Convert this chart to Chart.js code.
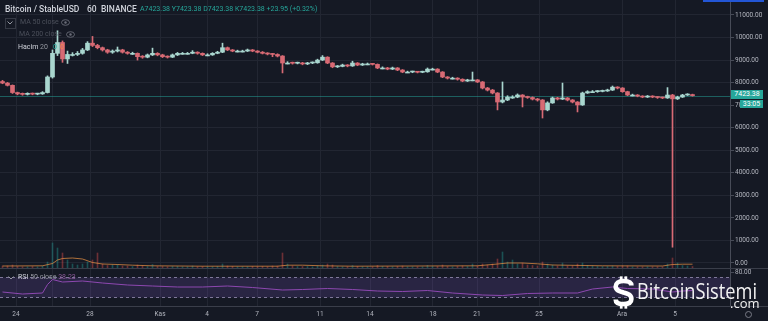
<!DOCTYPE html>
<html>
<head>
<meta charset="utf-8">
<script src="https://cdn.jsdelivr.net/npm/chart.js@4.4.0/dist/chart.umd.min.js"></script>
<style>
  body { margin: 0; background: #151924; width: 768px; height: 321px; overflow: hidden; position: relative; font-family: Roboto, "Open Sans", sans-serif; }
  canvas { position: absolute; left: 0; }
  .t { position: absolute; white-space: nowrap; line-height: 1; }
</style>
</head>
<body>
<canvas id="priceChart" width="768" height="268" style="top:0"></canvas>
<canvas id="rsiChart" width="768" height="53" style="top:268px"></canvas>

<!-- header / legend -->
<div class="t" style="left:5px;top:5px;font-size:8.5px;font-weight:500;color:#d1d4dc">Bitcoin / StableUSD</div>
<div class="t" style="left:87px;top:5px;font-size:8.5px;font-weight:500;color:#d1d4dc">60</div>
<div class="t" style="left:101px;top:5px;font-size:8.5px;font-weight:500;color:#d1d4dc">BINANCE</div>
<div class="t" style="left:140px;top:6px;font-size:7px;color:#26a69a">A7423.38 Y7423.38 D7423.38 K7423.38 +23.95 (+0.32%)</div>

<div style="position:absolute;left:5px;top:18px;width:9px;height:9px;border:1px solid #363a45"></div>
<svg style="position:absolute;left:7px;top:21px" width="6" height="4"><polyline points="0.5,0.5 3,3 5.5,0.5" fill="none" stroke="#9598a1" stroke-width="1"/></svg>
<div class="t" style="left:20px;top:19px;font-size:7px;color:#4c505b">MA 50 close</div>
<svg style="position:absolute;left:61px;top:19px" width="9" height="7"><ellipse cx="4.5" cy="3.5" rx="4" ry="2.8" fill="none" stroke="#6a6d78" stroke-width="0.9"/><circle cx="4.5" cy="3.5" r="1.2" fill="#6a6d78"/></svg>
<div class="t" style="left:19px;top:31px;font-size:7px;color:#4c505b">MA 200 close</div>
<svg style="position:absolute;left:66px;top:31px" width="9" height="7"><ellipse cx="4.5" cy="3.5" rx="4" ry="2.8" fill="none" stroke="#6a6d78" stroke-width="0.9"/><circle cx="4.5" cy="3.5" r="1.2" fill="#6a6d78"/></svg>
<div class="t" style="left:18px;top:44px;font-size:7px;color:#d1d4dc">Hacim <span style="color:#9598a1">20</span></div>
<div class="t" style="left:53px;top:44px;font-size:7px;color:#26a69a">0</div>
<div class="t" style="left:60px;top:44px;font-size:7px;color:#f0874a">0</div>

<!-- price tags -->
<div class="t" style="left:731px;top:90px;width:32px;height:9px;background:#26a69a;color:#fff;font-size:7px;line-height:9px;text-align:center">7423.38</div>
<div class="t" style="left:740px;top:100px;width:23px;height:8px;background:#26a69a;color:#fff;font-size:7px;line-height:8px;text-align:center">33:05</div>
<div style="position:absolute;left:703px;top:0;width:61px;height:2px;background:#2356d6"></div>

<!-- RSI legend -->
<svg style="position:absolute;left:8px;top:276px" width="6" height="4"><polyline points="0.5,0.5 3,3 5.5,0.5" fill="none" stroke="#9598a1" stroke-width="1"/></svg>
<div class="t" style="left:18px;top:274px;font-size:7px;color:#d1d4dc">RSI <span style="color:#9598a1">50 close</span> <span style="color:#8e5b9c">38.23</span></div>

<!-- watermark -->
<svg style="position:absolute;left:612px;top:275px" width="24" height="35" viewBox="0 0 26 35">
  <rect x="8.5" y="0" width="3" height="5" fill="#fff"/><rect x="13.5" y="0" width="3" height="5" fill="#fff"/>
  <rect x="8.5" y="30" width="3" height="5" fill="#fff"/><rect x="13.5" y="30" width="3" height="5" fill="#fff"/>
  <path d="M21,10 C21,6.5 17.5,5 12.5,5 C7,5 4,7.5 4,11 C4,15 8,16.2 12.5,17.5 C17.5,18.8 21,20 21,24.5 C21,28.5 17.5,30 12.5,30 C7.5,30 4,28.5 4,25" fill="none" stroke="#fff" stroke-width="5"/>
</svg>
<div class="t" style="left:637px;top:281px;font-family:'Open Sans';font-size:21px;line-height:21px;color:#f2f2f2;transform:scaleX(0.87);transform-origin:left top">BitcoinSistemi</div>
<div class="t" style="left:730px;top:297px;font-family:'Open Sans';font-size:13px;line-height:13px;color:#f2f2f2">.com</div>
<svg style="position:absolute;left:744px;top:310px" width="9" height="9"><circle cx="4.5" cy="4.5" r="3" fill="none" stroke="#787b86" stroke-width="1"/></svg>

<script>
// hourly candles, sampled one per 5px of the original chart
const opens = [8050,7980,7880,7560,7500,7480,7510,7490,7500,7560,
  8250,9300,9780,9050,9250,9250,9300,9450,9750,9650,
  9550,9450,9350,9400,9450,9350,9300,9300,9150,9130,
  9230,9300,9230,9150,9130,9230,9300,9300,9300,9350,
  9300,9230,9230,9300,9350,9550,9450,9400,9400,9400,
  9450,9400,9350,9300,9270,9250,9180,8870,8870,8860,
  8870,8830,8870,8880,9000,9130,8870,8700,8720,8780,
  8740,8870,8780,8830,8830,8810,8650,8650,8600,8650,
  8560,8470,8470,8480,8460,8480,8600,8600,8470,8250,
  8200,8200,8150,8070,8120,8120,8030,7760,7670,7540,
  7140,7230,7360,7360,7450,7360,7340,7270,7230,6790,
  7100,7320,7270,7320,7230,7140,7010,7540,7600,7600,
  7610,7630,7670,7800,7760,7600,7450,7450,7400,7360,
  7400,7360,7340,7320,7450,7280,7360,7450,7470];
const highs = [8100,8010,7900,7580,7540,7550,7540,7530,7600,8300,
  9450,10300,9850,9400,9330,9380,9520,9820,10050,9700,
  9580,9480,9450,9580,9480,9380,9350,9320,9200,9270,
  9530,9330,9260,9190,9270,9340,9340,9340,9420,9370,
  9320,9280,9330,9390,9750,9580,9470,9440,9440,9490,
  9470,9420,9380,9330,9300,9280,9200,8930,8910,8910,
  8900,8900,8920,9040,9200,9150,8890,8760,8820,8800,
  8950,8890,8860,8870,8850,8830,8700,8680,8690,8670,
  8580,8510,8510,8500,8510,8650,8640,8620,8490,8270,
  8240,8220,8170,8150,8470,8140,8050,7790,7700,7560,
  8030,7420,7420,7500,7470,7400,7370,7300,7250,7150,
  7360,7350,7980,7340,7250,7160,7580,7640,7650,7650,
  7670,7710,7850,7820,7780,7620,7490,7470,7420,7430,
  7420,7380,7360,7780,7480,7400,7480,7510,7490];
const lows = [7950,7850,7520,7460,7440,7450,7460,7460,7480,7540,
  8200,9200,8900,8850,9180,9200,9260,9420,9600,9500,
  9400,9300,9300,9360,9310,9260,9250,9000,9080,9100,
  9200,9190,9110,9090,9110,9200,9260,9260,9280,9260,
  9200,9190,9210,9280,9330,9420,9370,9360,9360,9380,
  9370,9320,9270,9230,9150,9140,8430,8830,8820,8830,
  8790,8800,8840,8860,8980,8840,8660,8670,8700,8700,
  8720,8750,8760,8790,8780,8620,8610,8570,8580,8530,
  8440,8440,8440,8430,8440,8460,8560,8440,8220,8160,
  8160,8110,8040,8050,8080,8000,7720,7630,7500,6790,
  7100,7200,7300,7330,6920,7300,7230,7180,6430,6750,
  7080,7230,7250,7190,7100,6700,6990,7520,7560,7570,
  7590,7610,7650,7720,7570,7420,7410,7370,7330,7340,
  7330,7300,7290,7300,700,7250,7340,7430,7400];
const closes = [7980,7880,7560,7500,7480,7510,7490,7500,7560,8250,
  9300,9780,9050,9250,9250,9300,9450,9750,9650,9550,
  9450,9350,9400,9450,9350,9300,9300,9150,9130,9230,
  9300,9230,9150,9130,9230,9300,9300,9300,9350,9300,
  9230,9230,9300,9350,9550,9450,9400,9400,9400,9450,
  9400,9350,9300,9270,9250,9180,8870,8870,8860,8870,
  8830,8870,8880,9000,9130,8870,8700,8720,8780,8740,
  8870,8780,8830,8830,8810,8650,8650,8600,8650,8560,
  8470,8470,8480,8460,8480,8600,8600,8470,8250,8200,
  8200,8150,8070,8120,8120,8030,7760,7670,7540,7140,
  7230,7360,7360,7450,7360,7340,7270,7230,6790,7100,
  7320,7270,7320,7230,7140,7010,7540,7600,7600,7610,
  7630,7670,7800,7760,7600,7450,7450,7400,7360,7400,
  7360,7340,7320,7450,7280,7360,7450,7470,7423.38];
const volumes = [20,20,30,15,12,12,15,12,20,60,
  250,200,150,80,40,30,40,60,80,150,
  40,25,30,35,20,20,15,30,20,15,
  35,15,15,12,15,15,12,12,20,12,
  15,12,12,15,40,20,15,12,12,12,
  15,12,15,12,20,20,150,40,20,15,
  15,15,12,20,30,40,30,15,12,12,
  25,15,12,12,12,25,15,15,12,15,
  20,12,12,12,12,25,15,15,30,15,
  12,15,20,15,40,20,40,30,40,90,
  160,60,80,40,50,30,25,20,60,40,
  30,20,50,20,20,40,50,25,20,15,
  15,15,20,15,20,20,12,12,12,12,
  12,12,12,40,100,50,25,20,15];
// volume MA 20 (read at a few candles)
const volMaIdx = [0,8,10,11,12,14,16,18,20,23,26,30,40,55,57,60,64,70,95,99,101,104,107,110,120,132,134,136,138];
const volMaVal = [20,22,45,80,95,100,90,55,40,35,28,22,18,18,28,28,22,18,22,40,50,50,42,30,22,20,35,38,38];
// RSI 50 (read at a few candles)
const rsiIdx = [0,4,8,9,10,12,16,20,25,30,35,40,45,50,56,60,65,70,75,80,85,90,96,100,105,110,115,118,122,125,130,134,136,138];
const rsiVal = [40,36,38,55,65,60,62,58,54,52,50,50,52,49,44,45,47,45,42,41,43,38,34,33,37,38,38,46,50,47,46,40,42,43];

// date axis
const tickLabels = ['24','28','Kas','4','7','11','14','18','21','25','Ara','5'];
const tickIndex = [2.7,17.5,31.5,40.9,50.9,63.5,73.5,86.1,94.9,107.3,123.9,134.5];
const extraGrid = [10.1];
const priceTicks = [0,1000,2000,3000,4000,5000,6000,7000,8000,9000,10000,11000];
const rsiTicks = [80];
const rsiUpper = 70, rsiLower = 30;

const gridIndex = tickIndex.concat(extraGrid).sort((a, b) => a - b);
const upColor = '#a9d6cf';
const downColor = '#d86a74';
const candleColors = closes.map((c, i) => c >= opens[i] ? upColor : downColor);
const volColors = closes.map((c, i) => c >= opens[i] ? 'rgba(38,166,154,0.4)' : 'rgba(239,83,80,0.4)');

Chart.defaults.font.family = "Roboto, 'Open Sans', sans-serif";
Chart.defaults.color = '#b2b5be';

const gridColor = '#222632';
const axisColor = '#474b57';

function fixWidth(scale) {
  scale.width = 38;
  scale.paddingTop = 0;
  scale.paddingBottom = 0;
}

const priceLinePlugin = {
  id: 'priceLine',
  beforeDatasetsDraw(chart) {
    const { ctx, chartArea } = chart;
    const y = Math.round(chart.scales.y.getPixelForValue(closes[closes.length - 1])) + 0.5;
    ctx.save();
    ctx.strokeStyle = 'rgba(38,166,154,0.5)';
    ctx.lineWidth = 1;
    ctx.beginPath();
    ctx.moveTo(chartArea.left, y);
    ctx.lineTo(chartArea.right, y);
    ctx.stroke();
    ctx.restore();
  }
};

new Chart(document.getElementById('priceChart'), {
  type: 'bar',
  data: {
    datasets: [
      {
        label: 'bodies',
        data: closes.map((c, i) => ({ x: i, y: [opens[i], c] })),
        backgroundColor: candleColors,
        barThickness: 4,
        minBarLength: 1,
        grouped: false,
        order: 1
      },
      {
        label: 'wicks',
        data: closes.map((c, i) => ({ x: i, y: [lows[i], highs[i]] })),
        backgroundColor: candleColors,
        barThickness: 1,
        grouped: false,
        order: 2
      },
      {
        type: 'line',
        label: 'Hacim MA',
        yAxisID: 'yVol',
        data: volMaIdx.map((x, k) => ({ x: x, y: volMaVal[k] })),
        borderColor: 'rgba(240,150,70,0.7)',
        borderWidth: 1,
        pointRadius: 0,
        order: 3
      },
      {
        label: 'Hacim',
        yAxisID: 'yVol',
        data: volumes.map((v, i) => ({ x: i, y: v })),
        backgroundColor: volColors,
        barThickness: 1,
        grouped: false,
        order: 4
      }
    ]
  },
  options: {
    responsive: false,
    animation: false,
    layout: { padding: 0 },
    plugins: { legend: { display: false }, tooltip: { enabled: false } },
    scales: {
      x: {
        type: 'linear',
        min: -0.5,
        max: 145.5,
        offset: false,
        afterBuildTicks: s => { s.ticks = gridIndex.map(v => ({ value: v })); },
        afterFit: s => { s.height = 0; s.paddingLeft = 0; s.paddingRight = 0; },
        grid: { color: gridColor, drawTicks: false, offset: false },
        border: { display: false },
        ticks: { display: false }
      },
      y: {
        position: 'right',
        min: -222,
        max: 11665,
        afterBuildTicks: s => { s.ticks = priceTicks.map(v => ({ value: v })); },
        afterFit: fixWidth,
        grid: { color: gridColor, tickLength: 4, tickColor: axisColor },
        border: { display: true, color: axisColor },
        ticks: { font: { size: 6.5 }, padding: 1, color: '#b2b5be', callback: v => v.toFixed(2) }
      },
      yVol: { display: false, min: 0, max: 2680 }
    }
  },
  plugins: [priceLinePlugin]
});

const rsiBandPlugin = {
  id: 'rsiBand',
  beforeDatasetsDraw(chart) {
    const { ctx, chartArea } = chart;
    const y = chart.scales.y;
    const yTop = Math.round(y.getPixelForValue(rsiUpper)) + 0.5;
    const yBot = Math.round(y.getPixelForValue(rsiLower)) + 0.5;
    ctx.save();
    ctx.fillStyle = 'rgba(126,87,194,0.2)';
    ctx.fillRect(chartArea.left, yTop, chartArea.right - chartArea.left, yBot - yTop);
    ctx.strokeStyle = 'rgba(170,160,200,0.7)';
    ctx.setLineDash([3, 3]);
    ctx.lineWidth = 1;
    ctx.beginPath();
    ctx.moveTo(chartArea.left, yTop); ctx.lineTo(chartArea.right, yTop);
    ctx.moveTo(chartArea.left, yBot); ctx.lineTo(chartArea.right, yBot);
    ctx.stroke();
    ctx.setLineDash([]);
    ctx.strokeStyle = '#3a3e4a';
    ctx.beginPath();
    ctx.moveTo(0, 0.5); ctx.lineTo(chart.width, 0.5);
    ctx.moveTo(0, chartArea.bottom + 0.5); ctx.lineTo(chart.width, chartArea.bottom + 0.5);
    ctx.stroke();
    ctx.restore();
  }
};

new Chart(document.getElementById('rsiChart'), {
  type: 'line',
  data: {
    datasets: [{
      label: 'RSI',
      data: rsiIdx.map((x, k) => ({ x: x, y: rsiVal[k] })),
      borderColor: '#8d48b0',
      borderWidth: 1,
      pointRadius: 0
    }]
  },
  options: {
    responsive: false,
    animation: false,
    layout: { padding: 0 },
    plugins: { legend: { display: false }, tooltip: { enabled: false } },
    scales: {
      x: {
        type: 'linear',
        min: -0.5,
        max: 145.5,
        afterBuildTicks: s => { s.ticks = gridIndex.map(v => ({ value: v })); },
        afterFit: s => { s.height = 15; s.paddingLeft = 0; s.paddingRight = 0; },
        grid: { color: gridColor, drawTicks: false },
        border: { display: false },
        ticks: {
          autoSkip: false,
          maxRotation: 0,
          padding: 4,
          font: { size: 6.5 },
          color: '#b2b5be',
          callback: v => { const k = tickIndex.indexOf(v); return k >= 0 ? tickLabels[k] : ''; }
        }
      },
      y: {
        position: 'right',
        min: 12,
        max: 88,
        afterBuildTicks: s => { s.ticks = rsiTicks.map(v => ({ value: v })); },
        afterFit: fixWidth,
        grid: { drawOnChartArea: false, tickLength: 4, tickColor: axisColor },
        border: { display: true, color: axisColor },
        ticks: { font: { size: 6.5 }, padding: 1, color: '#b2b5be', callback: v => v.toFixed(2) }
      }
    }
  },
  plugins: [rsiBandPlugin]
});
</script>
</body>
</html>
